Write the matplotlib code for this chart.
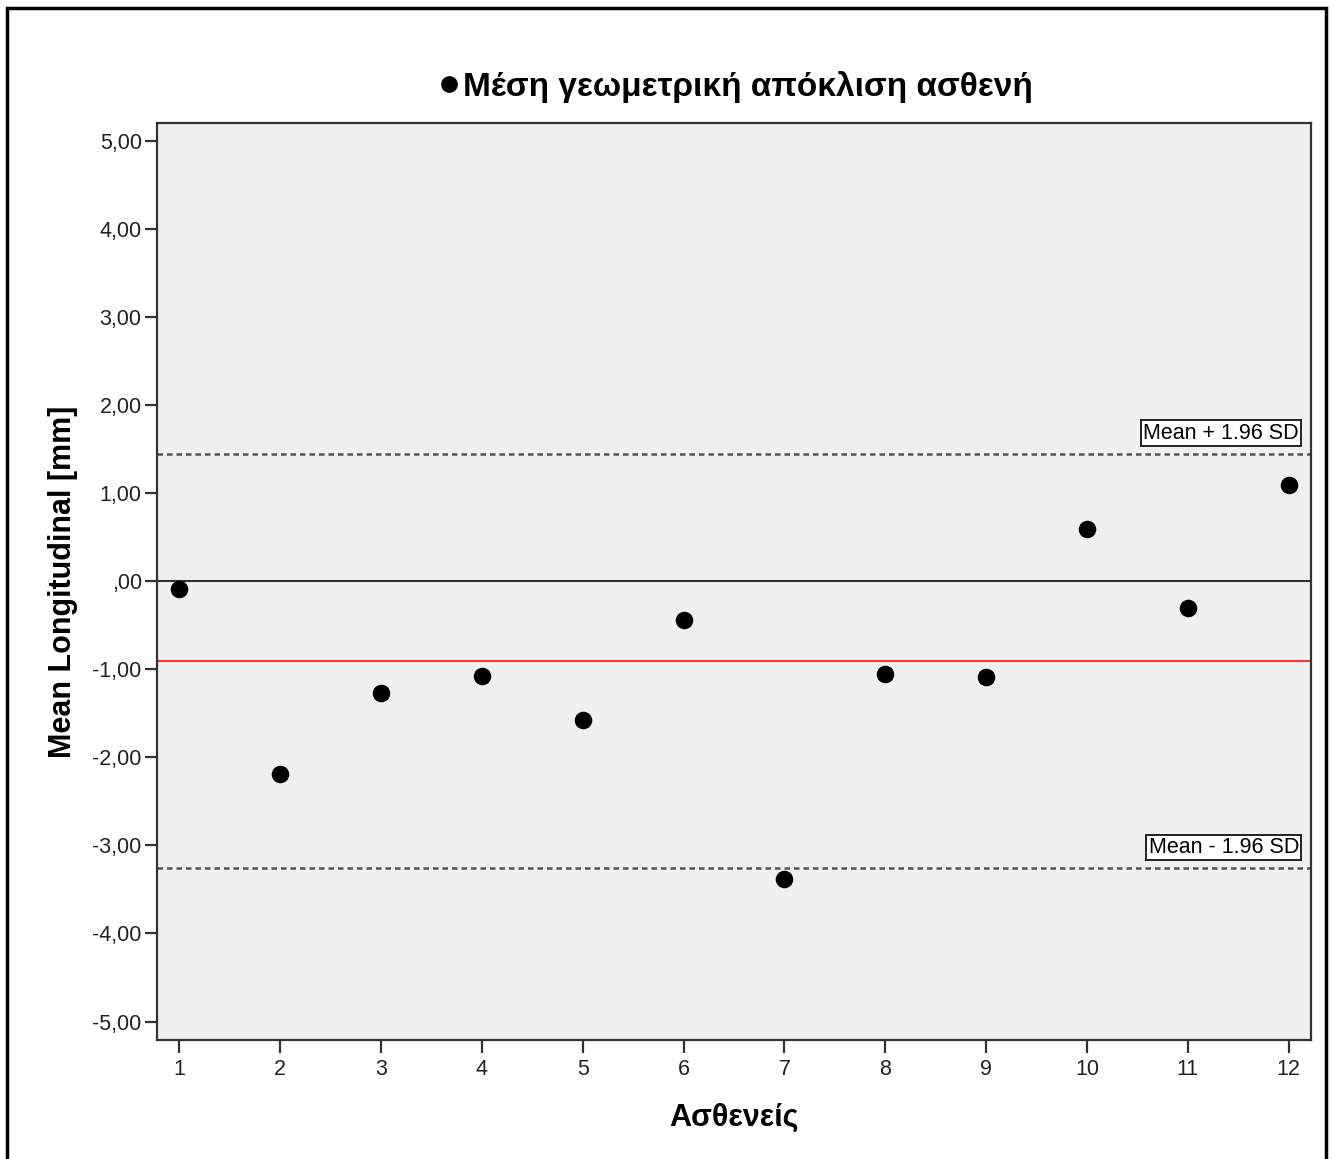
import matplotlib.pyplot as plt
from matplotlib.patches import Rectangle
from matplotlib.lines import Line2D

# Δεδομένα (ανάγνωση από το γράφημα)
patients = [1, 2, 3, 4, 5, 6, 7, 8, 9, 10, 11, 12]
mean_long = [-0.09, -2.19, -1.27, -1.08, -1.58, -0.44, -3.38, -1.06, -1.09, 0.59, -0.31, 1.09]
mean_line = -0.91
upper_loa = 1.44
lower_loa = -3.26
y_ticks = [5, 4, 3, 2, 1, 0, -1, -2, -3, -4, -5]
y_tick_labels = ['5,00', '4,00', '3,00', '2,00', '1,00', ',00', '-1,00', '-2,00', '-3,00', '-4,00', '-5,00']

plt.rcParams['font.family'] = ['Liberation Sans', 'DejaVu Sans']

fig = plt.figure(figsize=(13.34, 11.59), dpi=100)
ax = fig.add_axes([157 / 1334, 1 - 1040 / 1159, (1311 - 157) / 1334, (1040 - 123) / 1159])
ax.set_facecolor('#f0f0f0')

ax.axhline(0, color='#333333', lw=1.5, zorder=1)
ax.axhline(mean_line, color='#ff3333', lw=1.5, zorder=1)
ax.axhline(upper_loa, color='#555555', lw=1.8, ls=(0, (2.2, 1.6)), zorder=1)
ax.axhline(lower_loa, color='#555555', lw=1.8, ls=(0, (2.2, 1.6)), zorder=1)

ax.scatter(patients, mean_long, s=135, color='black', zorder=3)

box = dict(boxstyle='square,pad=0.1', fc='white', ec='#222222', lw=1.4)
ax.text(12.1, upper_loa + 0.12, 'Mean + 1.96 SD', ha='right', va='bottom',
        fontsize=15.5, bbox=box, zorder=4)
ax.text(12.1, lower_loa + 0.12, 'Mean - 1.96 SD', ha='right', va='bottom',
        fontsize=15.5, bbox=box, zorder=4)

ax.set_xlim(0.78, 12.22)
ax.set_ylim(-5.21, 5.2)
ax.set_xticks(patients)
ax.set_yticks(y_ticks)
ax.set_yticklabels(y_tick_labels)
ax.tick_params(axis='both', direction='out', length=9, width=1.6, color='#333333',
               labelsize=15.5, labelcolor='#222222')
ax.tick_params(axis='x', pad=5)
ax.tick_params(axis='y', pad=2)

for s in ax.spines.values():
    s.set_color('#333333')
    s.set_linewidth(1.6)

ax.set_xlabel('Ασθενείς', fontsize=22, fontweight='bold', labelpad=16)
ax.set_ylabel('Mean Longitudinal [mm]', fontsize=22, fontweight='bold', labelpad=10)

# υπόμνημα ως τίτλος
handle = Line2D([], [], marker='o', ls='none', color='black', ms=11)
fig.legend([handle], ['Μέση γεωμετρική απόκλιση ασθενή'], loc='center',
           bbox_to_anchor=(735 / 1334, 1 - 87 / 1159), frameon=False,
           prop={'size': 24, 'weight': 'bold'}, handletextpad=0.05, handlelength=0.7)

# εξωτερικό πλαίσιο
fig.patches.append(Rectangle((7 / 1334, -0.01), 1319 / 1334, 1 - 8 / 1159 + 0.01,
                             transform=fig.transFigure, fill=False, ec='black', lw=2.5))

plt.savefig('out.png', dpi=100)
